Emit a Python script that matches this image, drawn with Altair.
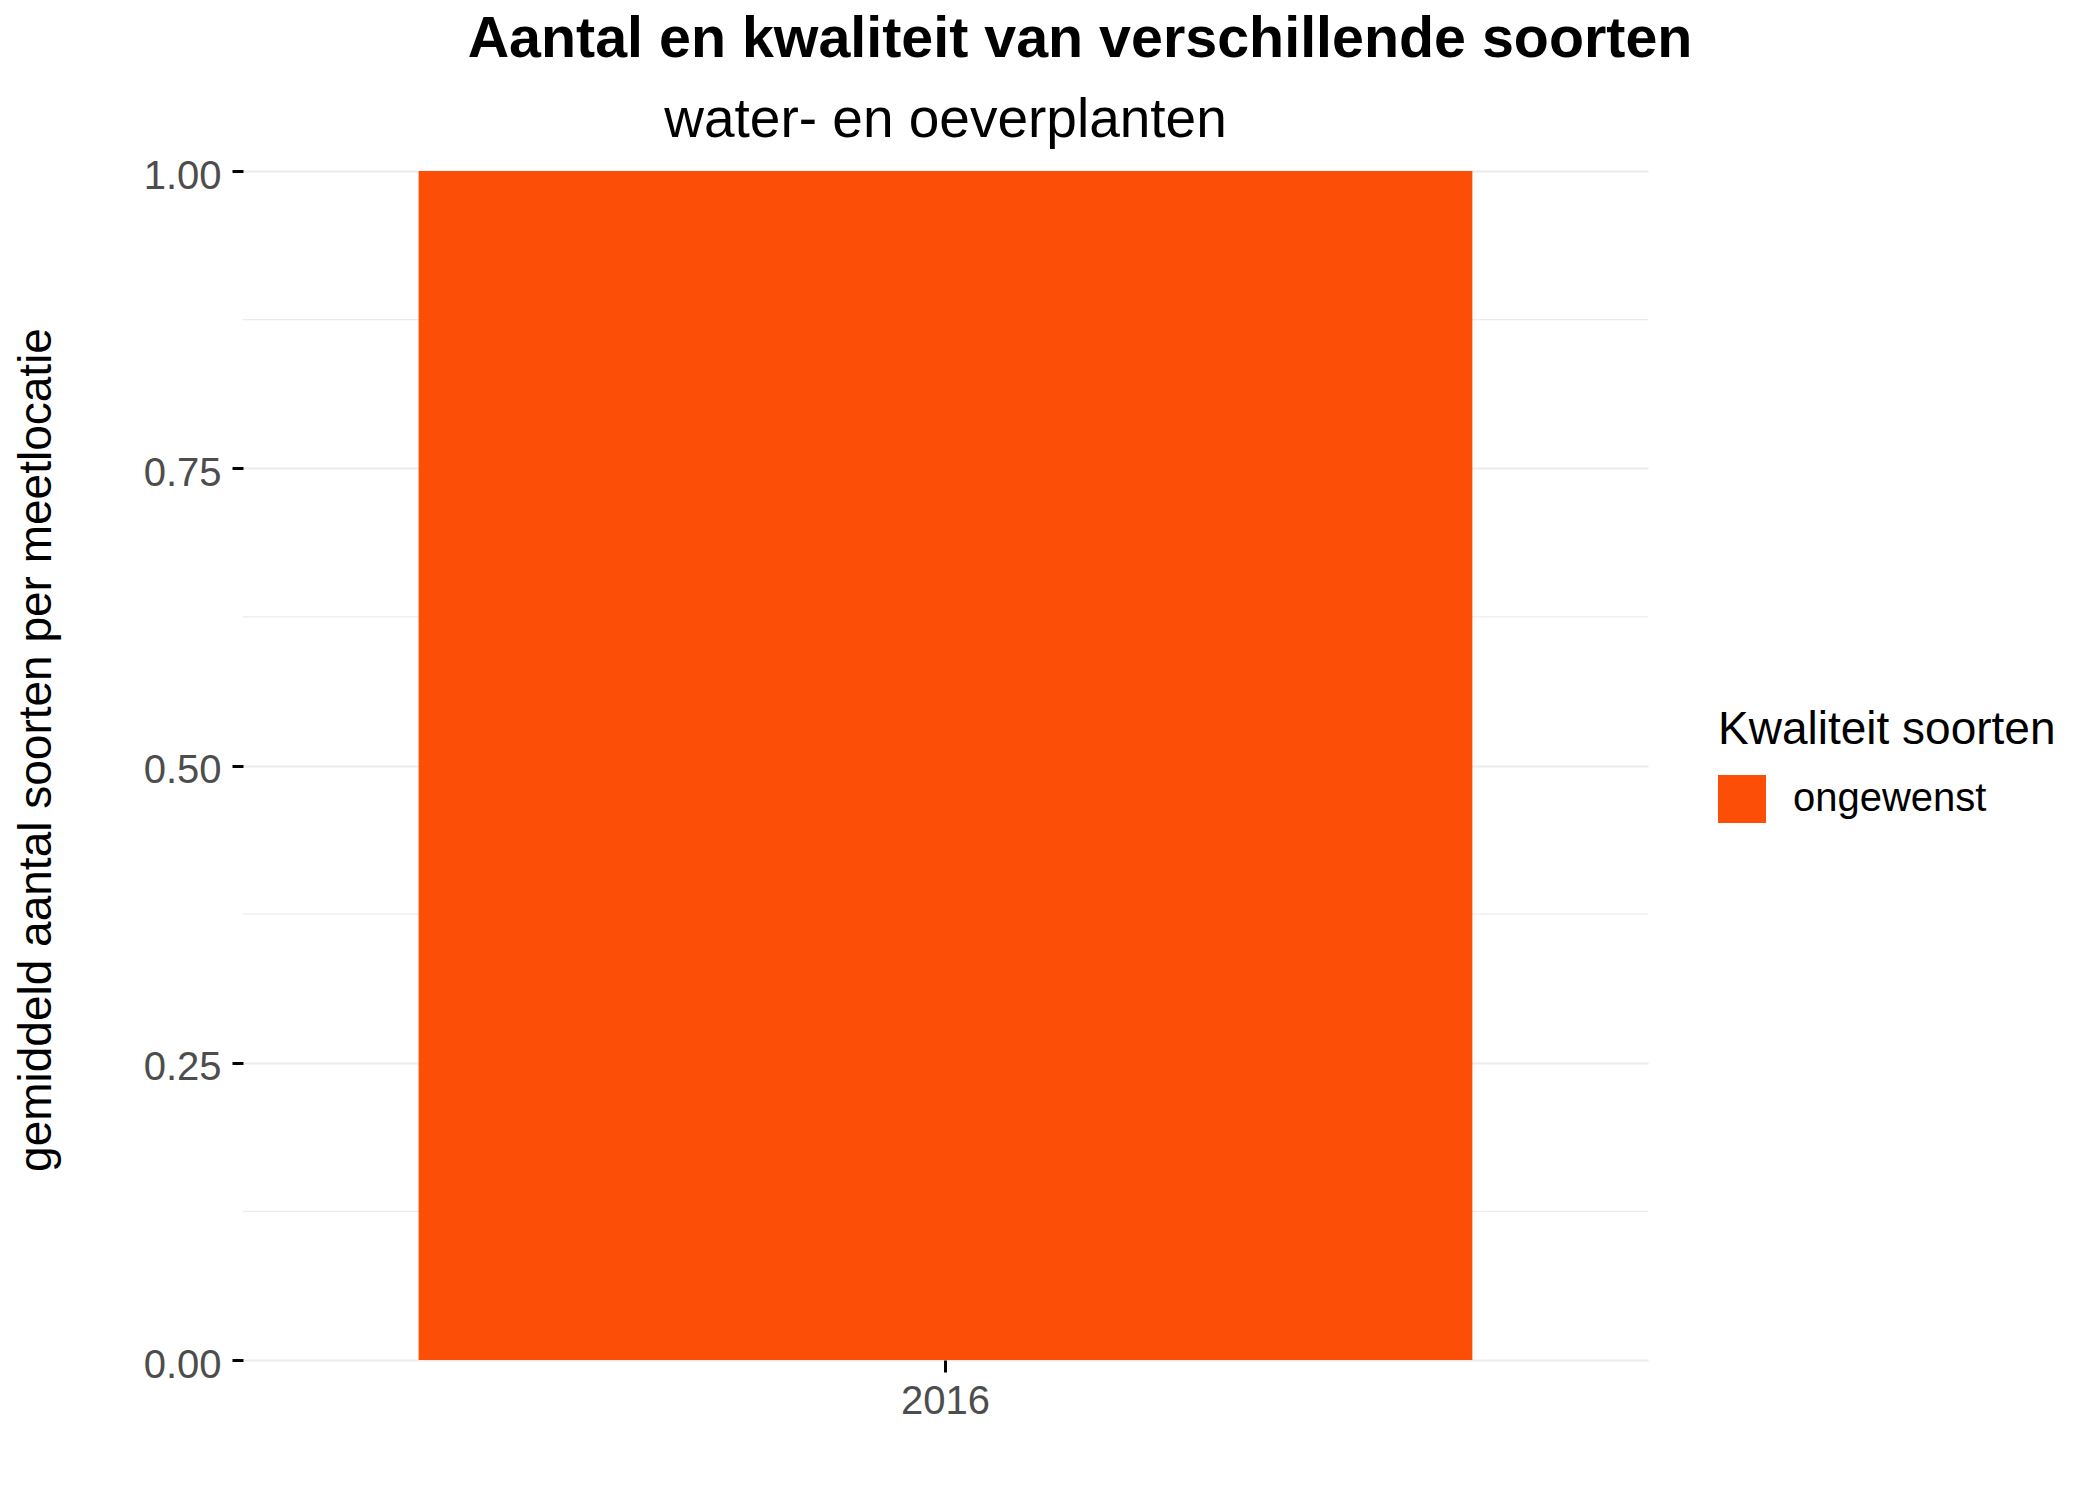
import altair as alt
import pandas as pd

# ---- data ----
years = ["2016"]
values = [1.0]
quality = ["ongewenst"]
y_ticks = [0, 0.25, 0.5, 0.75, 1.0]
minor_breaks = [0.125, 0.375, 0.625, 0.875]
title_text = ["Aantal en kwaliteit van verschillende soorten"]
subtitle_text = ["water- en oeverplanten"]
y_title = "gemiddeld aantal soorten per meetlocatie"
legend_title = "Kwaliteit soorten"
bar_colors = ["#FC4E07"]

FONT = "Liberation Sans"
W, H = 1405, 1189

bars_df = pd.DataFrame({"jaar": years, "waarde": values, "kwaliteit": quality})
minor_df = pd.DataFrame({"y": minor_breaks})
title_df = pd.DataFrame({"t": title_text})
subtitle_df = pd.DataFrame({"t": subtitle_text})

y_scale = alt.Scale(domain=[0, 1], nice=False, zero=True)
y_axis = alt.Axis(
    values=y_ticks, format=".2f", title=y_title,
    grid=True, gridColor="#EBEBEB", gridWidth=2,
    domain=False, ticks=True, tickColor="black", tickWidth=3, tickSize=11,
    labelFont=FONT, labelFontSize=40, labelColor="#4D4D4D",
    labelPadding=11, labelOffset=5,
    titleFont=FONT, titleFontSize=46, titleFontWeight="normal", titleColor="black",
    titleAngle=270, titleX=-193, titleY=578.5, titleAlign="center",
    titleBaseline="alphabetic",
)
x_axis = alt.Axis(
    title=None, labelAngle=0, domain=False, grid=False,
    ticks=True, tickColor="black", tickWidth=3, tickSize=12,
    labelFont=FONT, labelFontSize=40, labelColor="#4D4D4D", labelPadding=9,
)

minor = alt.Chart(minor_df).mark_rule(color="#EBEBEB", strokeWidth=1.2).encode(
    y=alt.Y("y:Q", scale=y_scale, axis=y_axis)
)

bars = alt.Chart(bars_df).mark_bar().encode(
    x=alt.X("jaar:N", scale=alt.Scale(paddingInner=0, paddingOuter=1 / 6), axis=x_axis),
    y=alt.Y("waarde:Q", scale=y_scale, axis=y_axis),
    color=alt.Color(
        "kwaliteit:N",
        scale=alt.Scale(domain=quality, range=bar_colors),
        legend=alt.Legend(
            title=legend_title, orient="none", legendX=1475, legendY=537,
            titleFont=FONT, titleFontSize=46, titleFontWeight="normal", titleColor="black",
            titleLimit=0, labelLimit=0,
            labelFont=FONT, labelFontSize=40, labelColor="black",
            symbolType="square", symbolSize=2304, symbolStrokeWidth=0,
            titlePadding=21, labelOffset=27, padding=0,
        ),
    ),
)

title_mark = alt.Chart(title_df).mark_text(
    font=FONT, fontSize=57.4, fontWeight="bold", align="center",
    baseline="alphabetic", color="black",
).encode(x=alt.value(837), y=alt.value(-114), text="t:N")

subtitle_mark = alt.Chart(subtitle_df).mark_text(
    font=FONT, fontSize=55, align="center", baseline="alphabetic", color="black",
).encode(x=alt.value(702.5), y=alt.value(-34), text="t:N")

chart = alt.layer(minor, bars, title_mark, subtitle_mark).properties(
    width=W, height=H,
    autosize=alt.AutoSizeParams(type="none"),
    padding={"left": 243, "top": 171, "right": 452, "bottom": 140},
    background="white",
).configure_view(stroke=None)

chart.save("out.html", embed_options={"renderer": "svg", "actions": False})
